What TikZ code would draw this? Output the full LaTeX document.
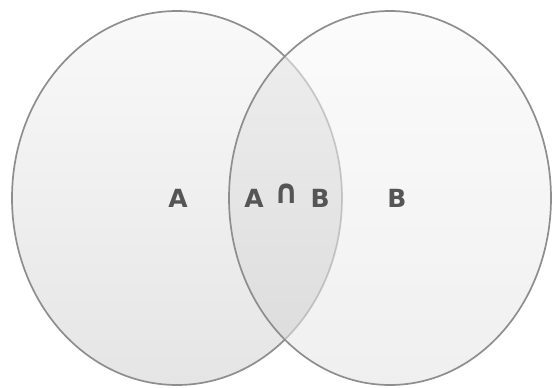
\documentclass[tikz,border=0pt]{standalone}
\usepackage{fontspec}
\setmainfont{DejaVu Sans}
\usepackage{tikz}
\definecolor{rim}{HTML}{8E8E8E}
\definecolor{ink}{HTML}{555555}
\definecolor{topgray}{HTML}{F9F9F9}
\definecolor{botgray}{HTML}{E5E5E5}

\begin{document}
\begin{tikzpicture}[x=1pt, y=-1pt,
  setlabel/.style={text=ink, font=\bfseries\fontsize{25}{30}\selectfont, inner sep=0pt, anchor=base}]
\useasboundingbox (0,0) rectangle (552,388);

% set A
\shade[top color=topgray, bottom color=botgray] (177,198) ellipse [x radius=165, y radius=187];
\draw[rim, line width=1.7pt] (177,198) ellipse [x radius=165, y radius=187];

% set B, lets A's rim show through faintly
\shade[top color=topgray, bottom color=botgray, fill opacity=0.6] (390,198) ellipse [x radius=161, y radius=187];

% overlap a bit darker
\begin{scope}
 \clip (177,198) ellipse [x radius=165, y radius=187];
 \fill[black, fill opacity=0.04] (390,198) ellipse [x radius=161, y radius=187];
\end{scope}
\draw[rim, line width=1.7pt] (390,198) ellipse [x radius=161, y radius=187];

\node[setlabel] (a) at (178,207) {A};
\node[setlabel] (ab) at (287,207) {A\hspace{0.45em}\raisebox{4pt}{\scalebox{1.2}[1.35]{∩}}\hspace{0.45em}B};
\node[setlabel] (b) at (397,207) {B};

\end{tikzpicture}
\end{document}
